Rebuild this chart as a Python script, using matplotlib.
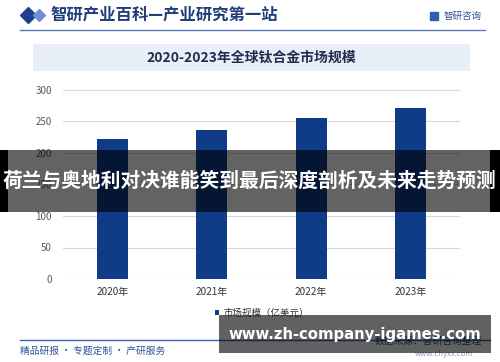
import matplotlib.pyplot as plt
from matplotlib.patches import Rectangle
from matplotlib.lines import Line2D

plt.rcParams['font.family'] = ['Noto Sans CJK SC', 'DejaVu Sans']

# data
years = ['2020年', '2021年', '2022年', '2023年']
market_size = [222, 236, 256, 271]
yticks = [0, 50, 100, 150, 200, 250, 300]

W, H = 500, 362
fig = plt.figure(figsize=(5, 3.62), dpi=100)
fig.patch.set_facecolor('white')


def fx(px):
    return px / W


def fy(py):
    return 1 - py / H


# header
fig.add_artist(Line2D([fx(28)], [fy(15)], marker='D', markersize=8, color='#1f3f8f',
                      transform=fig.transFigure))
fig.add_artist(Line2D([fx(39)], [fy(15)], marker='D', markersize=6.5, color='#6f8fcf',
                      transform=fig.transFigure))
fig.text(fx(50), fy(15), '智研产业百科—产业研究第一站', fontsize=11.8, fontweight='bold',
         color='#1f3d7a', ha='left', va='center')
fig.add_artist(Line2D([fx(434)], [fy(16)], marker='s', markersize=6, color='#2f5fb0',
                      transform=fig.transFigure))
fig.text(fx(444), fy(16), '智研咨询', fontsize=6.8, color='#2f4f8f', ha='left', va='center')
fig.add_artist(Line2D([fx(20), fx(485)], [fy(29.5), fy(29.5)], color='#5a78b8', lw=1,
                      transform=fig.transFigure))

# title box
fig.add_artist(Rectangle((fx(33), fy(71)), fx(437), 27 / H, facecolor='#e9eff9',
                         edgecolor='none', transform=fig.transFigure, zorder=0))
fig.text(fx(251), fy(58), '2020-2023年全球钛合金市场规模', fontsize=10, fontweight='bold',
         color='#1f2d4d', ha='center', va='center')

# chart
ax = fig.add_axes([fx(63), fy(279), fx(397), 189 / H])
ax.bar(range(len(years)), market_size, width=0.31, color='#0f3b87', zorder=3,
       label='市场规模（亿美元）')
ax.set_xlim(-0.5, len(years) - 0.5)
ax.set_ylim(0, 300)
ax.set_yticks(yticks)
ax.set_xticks(range(len(years)))
ax.set_xticklabels(years)
ax.tick_params(axis='y', length=0, pad=8, labelsize=7, labelcolor='#595959')
ax.tick_params(axis='x', length=0, pad=6, labelsize=7.2, labelcolor='#333333')
ax.grid(axis='y', color='#d9d9d9', lw=0.8, zorder=0)
for s in ax.spines.values():
    s.set_visible(False)
ax.legend(loc='upper center', bbox_to_anchor=(0.5, -0.11), frameon=False, fontsize=6.8,
          handlelength=0.5, handleheight=0.5, handletextpad=0.4, labelcolor='#333333')

# footer
fig.add_artist(Line2D([fx(20), fx(490)], [fy(340), fy(340)], color='#3a64b0', lw=1,
                      transform=fig.transFigure))
fig.text(fx(20), fy(351), '精品研报 · 专题定制 · 产研服务', fontsize=7, color='#2f5597',
         ha='left', va='center')
fig.text(fx(482), fy(341), '数据来源：智研咨询整理', fontsize=7, color='#2f4f8f',
         ha='right', va='center')
fig.text(fx(473), fy(354), 'www.chyxx.com', fontsize=5.5, color='#8f9fbf',
         ha='right', va='center')

# overlay banners
fig.add_artist(Rectangle((0, fy(212)), 1, 62 / H, facecolor='black', alpha=0.61,
                         edgecolor='none', transform=fig.transFigure, zorder=10))
fig.add_artist(Rectangle((0, fy(212)), fx(8), 62 / H, facecolor='black',
                         edgecolor='none', transform=fig.transFigure, zorder=10))
fig.add_artist(Rectangle((fx(490), fy(212)), fx(10), 62 / H, facecolor='black',
                         edgecolor='none', transform=fig.transFigure, zorder=10))
fig.text(fx(249), fy(181), '荷兰与奥地利对决谁能笑到最后深度剖析及未来走势预测', fontsize=14.2,
         fontweight='bold', color='white', ha='center', va='center', zorder=11)

fig.add_artist(Rectangle((fx(219), fy(353)), fx(272), 38 / H, facecolor='black', alpha=0.62,
                         edgecolor='none', transform=fig.transFigure, zorder=10))
fig.text(fx(355), fy(335), 'www.zh-company-igames.com', fontsize=10.7, fontweight='bold',
         color='white', ha='center', va='center', zorder=11, family='DejaVu Sans')

fig.savefig('out.png', dpi=100)
